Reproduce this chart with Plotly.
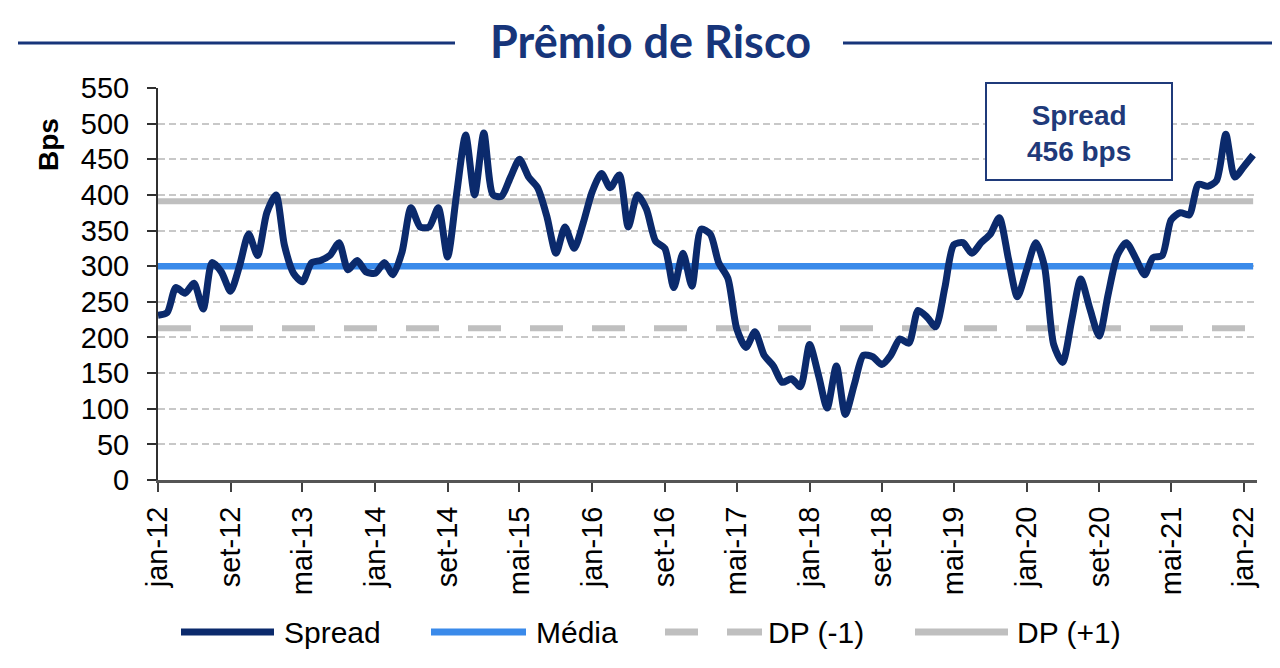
import plotly.graph_objects as go
import pandas as pd

# ---- data ----
spread = [
    231, 235, 270, 262, 276, 240, 305, 292, 265, 300, 345, 315,   # 2012
    375, 400, 330, 290, 278, 305, 308, 315, 333, 295, 308, 292,   # 2013
    290, 305, 288, 320, 382, 355, 355, 382, 313, 400, 484, 400,   # 2014
    487, 400, 398, 425, 450, 425, 410, 370, 318, 355, 325, 360,   # 2015
    405, 430, 410, 428, 355, 400, 380, 335, 325, 270, 318, 272,   # 2016
    352, 345, 305, 283, 212, 186, 208, 175, 160, 137, 142, 131,   # 2017
    190, 145, 101, 160, 92, 135, 175, 173, 162, 175, 198, 192,    # 2018
    238, 228, 215, 270, 330, 333, 318, 333, 345, 368, 310, 257,   # 2019
    295, 333, 300, 190, 165, 225, 282, 240, 202, 260, 315, 333,   # 2020
    312, 288, 312, 315, 365, 375, 372, 415, 412, 420, 485, 425,   # 2021
    440, 456,                                                     # 2022
]
start_month = "2012-01-01"
media = 300
dp_minus = 213
dp_plus = 391

tick_labels = ["jan-12", "set-12", "mai-13", "jan-14", "set-14", "mai-15",
               "jan-16", "set-16", "mai-17", "jan-18", "set-18", "mai-19",
               "jan-20", "set-20", "mai-21", "jan-22"]
tick_step_months = 8
y_ticks = list(range(0, 551, 50))
last_value_text = "Spread<br>456 bps"

# ---- derived ----
dates = pd.date_range(start_month, periods=len(spread), freq="MS")
tick_dates = pd.date_range(start_month, periods=len(tick_labels),
                           freq=f"{tick_step_months}MS")
x_span = [dates[0], dates[-1]]

NAVY = "#0B2A6C"
BLUE = "#3A8AEA"
GRAY = "#BFBFBF"
TITLE_C = "#17357A"
FONT = "Liberation Sans, Arial, sans-serif"

fig = go.Figure()
fig.add_trace(go.Scatter(x=x_span, y=[dp_plus, dp_plus], mode="lines",
                         line=dict(color=GRAY, width=6), name="DP (+1)"))
fig.add_trace(go.Scatter(x=x_span, y=[dp_minus, dp_minus], mode="lines",
                         line=dict(color=GRAY, width=6, dash="33px,29px"),
                         name="DP (-1)"))
fig.add_trace(go.Scatter(x=x_span, y=[media, media], mode="lines",
                         line=dict(color=BLUE, width=6.5), name="Média"))
fig.add_trace(go.Scatter(x=dates, y=spread, mode="lines",
                         line=dict(color=NAVY, width=7, shape="spline",
                                   smoothing=0.7), name="Spread"))

# page body offsets the figure by 8px; positions below are window pixels
OFF = 8
W, H = 1280, 668
PL, PR, PT, PB = 158, 1257, 88, 480          # plot box in window pixels
L, T = PL - OFF, PT - OFF
R = W - (PR - OFF)
B = H - (PB - OFF)
pw, ph = PR - PL, PB - PT


def px(x):
    return (x - PL) / pw


def py(y):
    return (PB - y) / ph


shapes = []
annotations = []

# title with side rules
shapes.append(dict(type="line", xref="paper", yref="paper", x0=px(18), x1=px(455),
                   y0=py(43), y1=py(43), line=dict(color=TITLE_C, width=3)))
shapes.append(dict(type="line", xref="paper", yref="paper", x0=px(843), x1=px(1290),
                   y0=py(43), y1=py(43), line=dict(color=TITLE_C, width=3)))
annotations.append(dict(text="<b>Prêmio de Risco</b>", xref="paper", yref="paper",
                        x=px(650), y=py(41), xanchor="center", yanchor="middle",
                        showarrow=False,
                        font=dict(family="Lato, sans-serif", size=45, color=TITLE_C)))

# info box
shapes.append(dict(type="rect", xref="paper", yref="paper", x0=px(986), x1=px(1172),
                   y0=py(180), y1=py(83), fillcolor="white",
                   line=dict(color="#1F3A7A", width=2)))
annotations.append(dict(text=f"<b>{last_value_text}</b>", xref="paper", yref="paper",
                        x=px(1079), y=py(133), xanchor="center", yanchor="middle",
                        showarrow=False,
                        font=dict(family=FONT, size=28, color="#1F3A7A")))

# y label
annotations.append(dict(text="<b>Bps</b>", xref="paper", yref="paper",
                        x=px(48), y=py(145), xanchor="center", yanchor="middle",
                        textangle=-90, showarrow=False,
                        font=dict(family=FONT, size=28, color="black")))

# manual legend
ly = py(632)
legend_items = [
    ("Spread", NAVY, None, 181, 274, 282),
    ("Média", BLUE, None, 431, 526, 534),
    ("DP (-1)", GRAY, [(665, 698), (727, 762)], None, None, 766),
    ("DP (+1)", GRAY, None, 915, 1008, 1015),
]
for name, col, segs, x0, x1, tx in legend_items:
    if segs is None:
        segs = [(x0, x1)]
    for a, b in segs:
        shapes.append(dict(type="line", xref="paper", yref="paper", x0=px(a), x1=px(b),
                           y0=ly, y1=ly, line=dict(color=col, width=7)))
    annotations.append(dict(text=name, xref="paper", yref="paper", x=px(tx), y=ly,
                            xanchor="left", yanchor="middle", showarrow=False,
                            font=dict(family=FONT, size=30, color="black")))

fig.update_layout(
    width=W, height=H,
    margin=dict(l=L, r=R, t=T, b=B, pad=0),
    paper_bgcolor="white", plot_bgcolor="white",
    showlegend=False,
    shapes=shapes, annotations=annotations,
    font=dict(family=FONT, color="black"),
)
fig.update_xaxes(
    type="date",
    range=[dates[0], pd.Timestamp("2022-02-14")],
    tickvals=tick_dates, ticktext=tick_labels, tickangle=-90,
    tickfont=dict(family=FONT, size=29, color="black"),
    ticks="outside", ticklen=9, tickwidth=2, tickcolor="#404040",
    ticklabelstandoff=3,
    showline=True, linecolor="#555555", linewidth=3,
    showgrid=False, zeroline=False,
)
fig.update_yaxes(
    range=[0, 550], tickvals=y_ticks,
    tickfont=dict(family=FONT, size=29, color="black"),
    ticks="outside", ticklen=9, tickwidth=2, tickcolor="#303030",
    ticklabelstandoff=12,
    showline=True, linecolor="#303030", linewidth=2,
    showgrid=True, gridcolor="#C8C8C8", gridwidth=1.5, griddash="7px,4px",
    zeroline=False,
)

fig.write_html("out.html")
